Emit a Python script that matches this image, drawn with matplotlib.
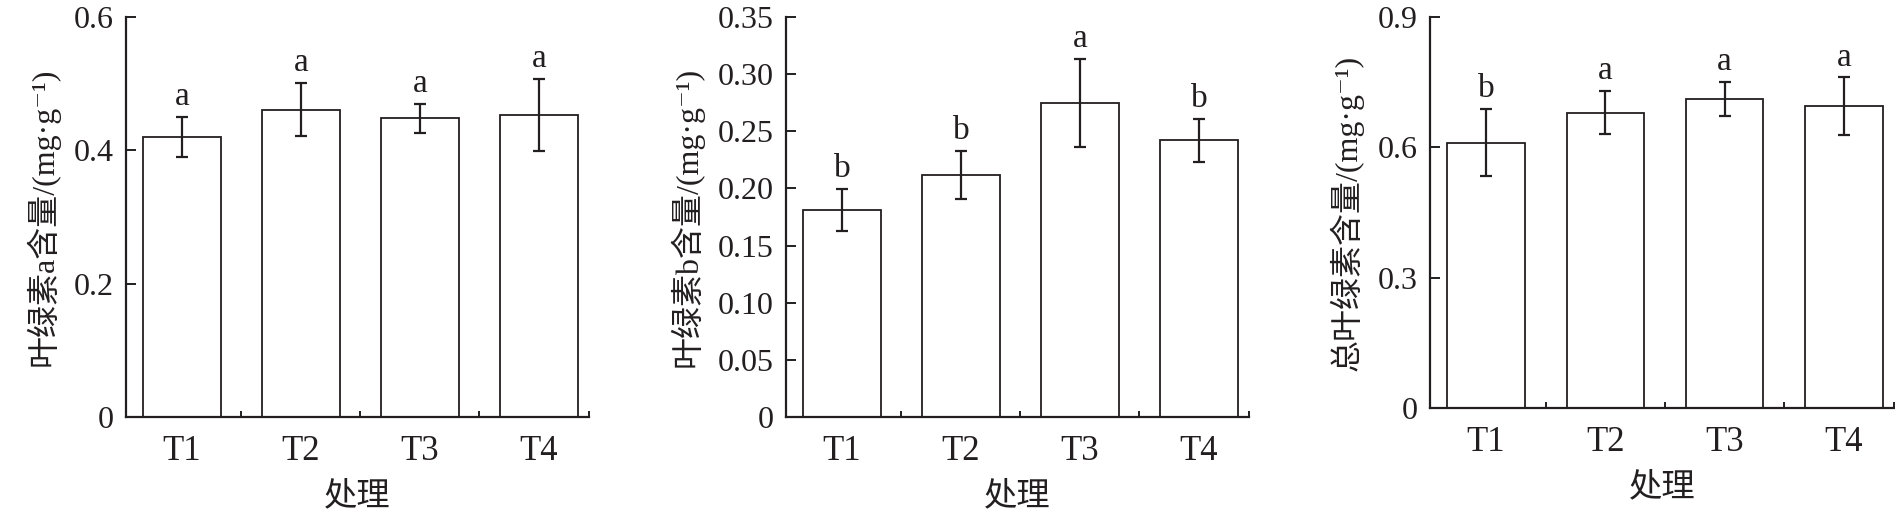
import numpy as np
import matplotlib
matplotlib.use('Agg')
import matplotlib.pyplot as plt

plt.rcParams['font.family'] = ['Liberation Serif', 'Noto Sans CJK SC', 'DejaVu Serif']

# data
groups = ['T1', 'T2', 'T3', 'T4']

chla_mean = [0.420, 0.461, 0.448, 0.453]
chla_err = [0.030, 0.040, 0.022, 0.054]
chla_sig = ['a', 'a', 'a', 'a']

chlb_mean = [0.181, 0.212, 0.275, 0.242]
chlb_err = [0.0185, 0.021, 0.0385, 0.0187]
chlb_sig = ['b', 'b', 'a', 'b']

total_mean = [0.611, 0.680, 0.712, 0.695]
total_err = [0.077, 0.049, 0.039, 0.066]
total_sig = ['b', 'a', 'a', 'a']

ylabels = ['叶绿素a含量/(mg·g⁻¹)', '叶绿素b含量/(mg·g⁻¹)', '总叶绿素含量/(mg·g⁻¹)']
yticks_a = [0, 0.2, 0.4, 0.6]
yticklabels_a = ['0', '0.2', '0.4', '0.6']
yticks_b = [0, 0.05, 0.10, 0.15, 0.20, 0.25, 0.30, 0.35]
yticklabels_b = ['0', '0.05', '0.10', '0.15', '0.20', '0.25', '0.30', '0.35']
yticks_t = [0, 0.3, 0.6, 0.9]
yticklabels_t = ['0', '0.3', '0.6', '0.9']

ink = '#231f20'

fig = plt.figure(figsize=(18.95, 5.18), dpi=100)
rects = [
    [126 / 1895, 101 / 518, 463 / 1895, 400 / 518],
    [786 / 1895, 101 / 518, 463 / 1895, 400 / 518],
    [1430 / 1895, 110 / 518, 464 / 1895, 391 / 518],
]

panels = [
    (chla_mean, chla_err, chla_sig, yticks_a, yticklabels_a),
    (chlb_mean, chlb_err, chlb_sig, yticks_b, yticklabels_b),
    (total_mean, total_err, total_sig, yticks_t, yticklabels_t),
]

x = np.arange(len(groups))
for rect, (mean, err, sig, yt, ytl), ylab in zip(rects, panels, ylabels):
    ax = fig.add_axes(rect)
    ax.bar(x, mean, width=0.65, color='white', edgecolor=ink, linewidth=1.3, zorder=2)
    ax.errorbar(x, mean, yerr=err, fmt='none', ecolor=ink, elinewidth=1.6,
                capsize=4, capthick=1.6, zorder=3)
    for xi, m, e, s in zip(x, mean, err, sig):
        ax.annotate(s, (xi, m + e), xytext=(0, 8.5), textcoords='offset points',
                    ha='center', va='baseline', fontsize=24, color=ink)

    ax.set_xlim(-0.47, 3.42)
    ax.set_ylim(yt[0], yt[-1])
    ax.set_xticks(x)
    ax.set_xticklabels(groups)
    ax.set_xticks([0.5, 1.5, 2.5, 3.42], minor=True)
    ax.set_yticks(yt)
    ax.set_yticklabels(ytl)

    for side in ['top', 'right']:
        ax.spines[side].set_visible(False)
    for side in ['left', 'bottom']:
        ax.spines[side].set_linewidth(1.6)
        ax.spines[side].set_color(ink)

    ax.tick_params(axis='x', which='major', length=0, pad=13, labelsize=25, colors=ink)
    ax.tick_params(axis='x', which='minor', direction='in', length=4, width=1.4, color=ink)
    ax.tick_params(axis='y', direction='in', length=7, width=1.4, pad=9, labelsize=23, colors=ink)

    ax.set_xlabel('处理', fontsize=24, labelpad=10, color=ink)
    ax.set_ylabel(ylab, fontsize=23, labelpad=10, color=ink)

fig.savefig('out.png', dpi=100)
